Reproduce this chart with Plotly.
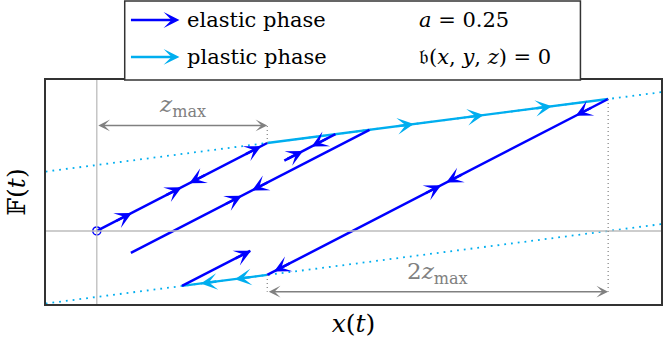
import numpy as np
import plotly.graph_objects as go

BLUE = "#0000FF"
CYAN = "#00AEEF"
GRAY = "#808080"
LGRAY = "#BDBDBD"

# path segments (x, F)
elastic_x = [[0, 1], [3, 1], [0.5, 0.9], [0.2, 1.6], [1.1, 1.4]]
elastic_F = [[0, 1], [1.5, -0.5], [-0.625, -0.225], [-0.25, 1.15], [0.8, 1.1]]
plastic_x = [[1, 3], [1, 0.5]]
plastic_F = [[1, 1.5], [-0.5, -0.625]]

# arrow marks: (x position, direction) per segment
elastic_arrows = [
    [(0.175, 1), (0.468, 1), (0.573, -1), (0.935, 1)],
    [(2.84, -1), (2.08, -1), (1.99, 1), (1.07, -1)],
    [(0.875, 1)],
    [(0.82, 1), (0.94, -1)],
    [(1.18, 1), (1.29, -1)],
]
plastic_arrows = [
    [(1.83, 1), (2.24, 1), (2.64, 1)],
    [(0.84, -1), (0.64, -1)],
]

# yield bounds (dotted)
bound_x = [-0.3, 3.32]
upper_F = [0.675, 1.58]
lower_F = [-0.825, 0.08]

zmax = 1.0
xr = [-0.298, 3.31]
yr = [-0.83, 1.716]

fig = go.Figure()

# gray axes through origin
fig.add_shape(type="line", x0=0, x1=0, y0=yr[0], y1=yr[1], line=dict(color=LGRAY, width=1.3))
fig.add_shape(type="line", x0=xr[0], x1=xr[1], y0=0, y1=0, line=dict(color=LGRAY, width=1.3))

# dotted guides
fig.add_shape(type="line", x0=1, x1=1, y0=1.0, y1=1.2, line=dict(color=GRAY, width=1.2, dash="1px,3px"))
fig.add_shape(type="line", x0=1, x1=1, y0=-0.5, y1=-0.69, line=dict(color=GRAY, width=1.2, dash="1px,3px"))
fig.add_shape(type="line", x0=3, x1=3, y0=1.5, y1=-0.69, line=dict(color=GRAY, width=1.2, dash="1px,3px"))

for bF in [upper_F, lower_F]:
    fig.add_trace(go.Scatter(x=bound_x, y=bF, mode="lines",
                             line=dict(color=CYAN, width=1.8, dash="1.8px,5px"),
                             showlegend=False, hoverinfo="skip"))

for sx, sF in zip(plastic_x, plastic_F):
    fig.add_trace(go.Scatter(x=sx, y=sF, mode="lines", line=dict(color=CYAN, width=2.3),
                             showlegend=False))
for sx, sF in zip(elastic_x, elastic_F):
    fig.add_trace(go.Scatter(x=sx, y=sF, mode="lines", line=dict(color=BLUE, width=2.5),
                             showlegend=False))

fig.add_trace(go.Scatter(x=[0], y=[0], mode="markers",
                         marker=dict(symbol="circle-open", size=8, color=BLUE, line=dict(width=1.5)),
                         showlegend=False))


def add_arrows(segs_x, segs_F, marks, color):
    for sx, sF, ms in zip(segs_x, segs_F, marks):
        order = np.argsort(sx)
        xs = np.array(sx)[order]
        Fs = np.array(sF)[order]
        for xm, d in ms:
            tip = xm + d * 0.03
            tail = tip - d * 0.1
            fig.add_annotation(x=tip, y=float(np.interp(tip, xs, Fs)),
                               ax=tail, ay=float(np.interp(tail, xs, Fs)),
                               xref="x", yref="y", axref="x", ayref="y",
                               text="", showarrow=True, arrowhead=3, arrowsize=1.15,
                               arrowwidth=2.4, arrowcolor=color)


add_arrows(elastic_x, elastic_F, elastic_arrows, BLUE)
add_arrows(plastic_x, plastic_F, plastic_arrows, CYAN)

# dimension arrows
fig.add_annotation(x=zmax, y=1.2, ax=0, ay=1.2, xref="x", yref="y", axref="x", ayref="y",
                   text="", showarrow=True, arrowhead=3, arrowside="end+start",
                   arrowsize=1.3, arrowwidth=1.5, arrowcolor=GRAY)
fig.add_annotation(x=3 * zmax, y=-0.69, ax=zmax, ay=-0.69, xref="x", yref="y", axref="x", ayref="y",
                   text="", showarrow=True, arrowhead=3, arrowside="end+start",
                   arrowsize=1.3, arrowwidth=1.5, arrowcolor=GRAY)
fig.add_annotation(x=0.5, y=1.42, text="<i>z</i><sub>max</sub>", showarrow=False,
                   font=dict(family="DejaVu Serif", size=23, color=GRAY))
fig.add_annotation(x=2.0, y=-0.48, text="2<i>z</i><sub>max</sub>", showarrow=False,
                   font=dict(family="DejaVu Serif", size=23, color=GRAY))

# legend box
fig.add_shape(type="rect", xref="paper", yref="paper", x0=0.128, x1=0.869, y0=1.0, y1=1.353,
              line=dict(color="#333333", width=1.5), fillcolor="white")
leg_y = [1.268, 1.103]
leg_col = [BLUE, CYAN]
leg_txt = ["elastic phase", "plastic phase"]
leg_txt2 = ["<i>a</i> = 0.25", "𝔟(<i>x</i>, <i>y</i>, <i>z</i>) = 0"]
for yy, cc, t1, t2 in zip(leg_y, leg_col, leg_txt, leg_txt2):
    fig.add_annotation(x=0.217, y=yy, ax=-50, ay=0, xref="paper", yref="paper",
                       axref="pixel", ayref="pixel", text="", showarrow=True, arrowhead=3,
                       arrowsize=1.1, arrowwidth=2.4, arrowcolor=cc)
    fig.add_annotation(x=0.226, y=yy, xref="paper", yref="paper", text=t1, showarrow=False,
                       xanchor="left", yanchor="middle",
                       font=dict(family="DejaVu Serif", size=21, color="black"))
    fig.add_annotation(x=0.603, y=yy, xref="paper", yref="paper", text=t2, showarrow=False,
                       xanchor="left", yanchor="middle",
                       font=dict(family="DejaVu Serif", size=21, color="black"))

fig.update_layout(
    width=665, height=350,
    margin=dict(l=46, r=2, t=80, b=46),
    plot_bgcolor="white", paper_bgcolor="white",
    font=dict(family="DejaVu Serif", size=21, color="black"),
    showlegend=False,
)
fig.update_xaxes(range=xr, showgrid=False, zeroline=False, showticklabels=False, ticks="",
                 showline=True, mirror=True, linecolor="#333333", linewidth=1.5,
                 title=dict(text="<i>x</i>(<i>t</i>)", standoff=10))
fig.update_yaxes(range=yr, showgrid=False, zeroline=False, showticklabels=False, ticks="",
                 showline=True, mirror=True, linecolor="#333333", linewidth=1.5,
                 title=dict(text="𝔽(<i>t</i>)", standoff=12))

fig.write_html("out.html", config={"displayModeBar": False},
               post_script="document.body.style.margin='0';")
